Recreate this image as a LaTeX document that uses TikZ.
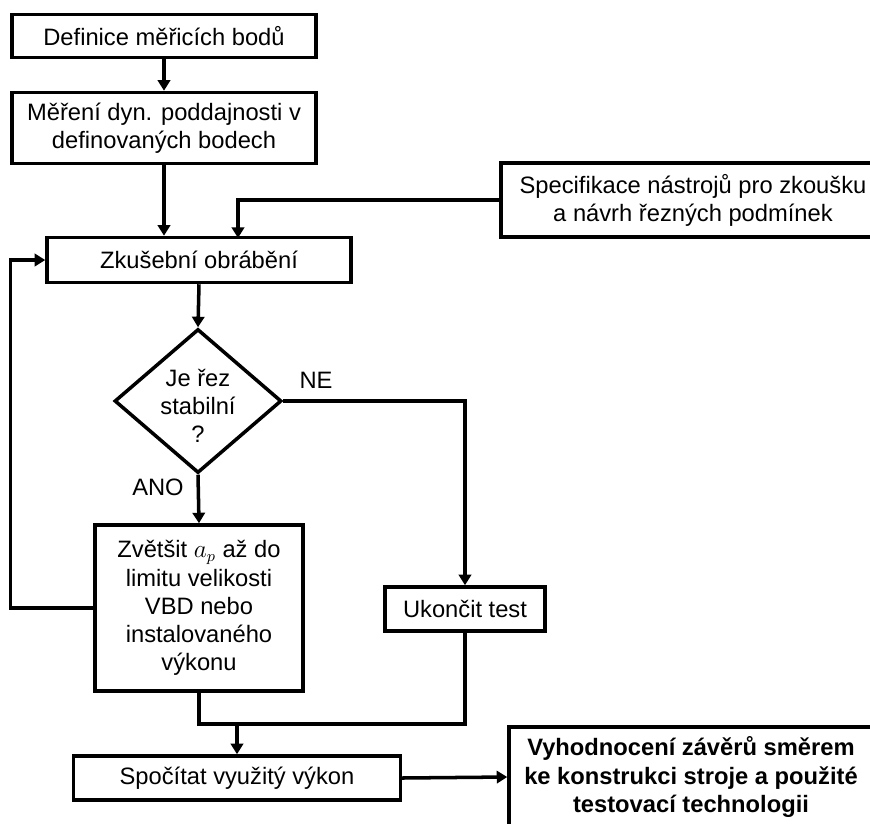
\documentclass[tikz,border=0pt]{standalone}
\usepackage{fontspec}
\setmainfont{Liberation Sans}
\usetikzlibrary{shapes.geometric,arrows.meta}
\begin{document}
\begin{tikzpicture}[x=0.02cm,y=-0.02cm,
    box/.style={draw,line width=2pt,align=center,inner sep=2pt,font=\fontsize{13.5}{16}\selectfont},
    dia/.style={draw,diamond,line width=2pt,minimum width=3.34cm,minimum height=2.88cm,inner sep=0pt},
    arr/.style={line width=2pt,-{Triangle[length=6pt,width=7pt]}},
    ln/.style={line width=2pt},
    lbl/.style={font=\fontsize{13.5}{16}\selectfont,align=center}]
    \useasboundingbox (0,0) rectangle (870,823);
    % boxes
    \node[box,minimum width=6.08cm,minimum height=0.86cm] (def) at (164,36) {Definice měřicích bodů};
    \node[box,minimum width=6.08cm,minimum height=1.42cm] (mer) at (164,128) {Měření dyn. poddajnosti v\\definovaných bodech};
    \node[box,minimum width=7.68cm,minimum height=1.48cm] (spec) at (693,200) {Specifikace nástrojů pro zkoušku\\a návrh řezných podmínek};
    \node[box,minimum width=6.08cm,minimum height=0.9cm] (zk) at (199,260) {Zkušební obrábění};
    \node[dia] (st) at (198,401) {};
    \node[lbl] (sttxt) at (198,406) {Je řez\\stabilní\\?};
    \node[box,minimum width=4.16cm,minimum height=3.32cm] (zv) at (199,608) {Zvětšit $a_p$ až do\\limitu velikosti\\VBD nebo\\instalovaného\\výkonu};
    \node[box,minimum width=3.2cm,minimum height=0.88cm] (uk) at (465,609) {Ukončit test};
    \node[box,minimum width=6.54cm,minimum height=0.88cm] (sp) at (237,778) {Spočítat využitý výkon};
    \node[box,minimum width=7.28cm,minimum height=2cm,font=\fontsize{13.5}{16}\selectfont\bfseries] (vy) at (691,777) {Vyhodnocení závěrů směrem\\ke konstrukci stroje a použité\\testovací technologii};
    % labels
    \node[lbl] (ne) at (316,380) {NE};
    \node[lbl] (ano) at (158,487) {ANO};
    % connectors
    \coordinate (zkin) at (238,238);
    \coordinate (mg) at (237,724);
    \draw[arr] (def) -- (mer);
    \draw[arr] (mer.south) -- (mer.south |- zk.north);
    \draw[arr] (spec.west) -| (zkin);
    \draw[arr] (zk.south) -- (st.north);
    \draw[arr] (st.east) -| (uk.north);
    \draw[arr] (st.south) -- (zv.north);
    \draw[arr] (zv.west) -- ++(-83,0) |- (zk.west);
    \draw[ln] (zv.south) |- (mg) -| (uk.south);
    \draw[arr] (mg) -- (sp.north);
    \draw[arr] (sp.east) -- (vy.west);
\end{tikzpicture}
\end{document}
